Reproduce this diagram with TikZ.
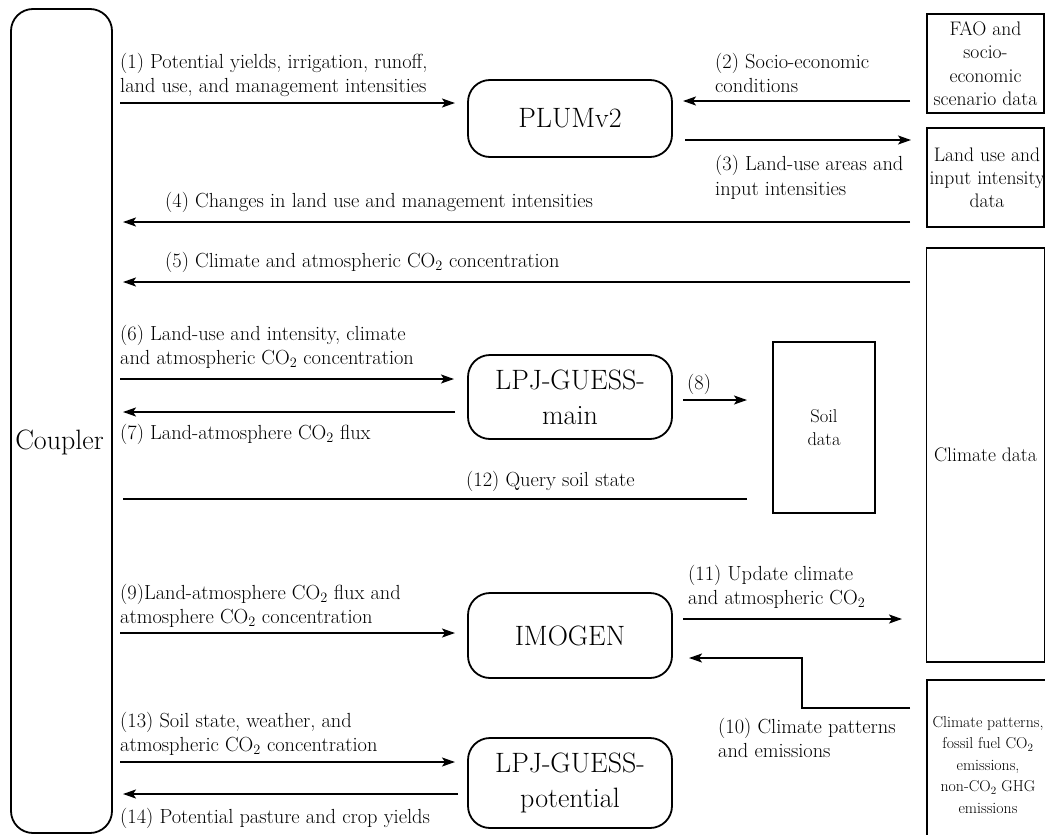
\documentclass[tikz,border=0pt]{standalone}
\usepackage{fontspec}
\usetikzlibrary{arrows.meta}
\newcommand{\COtwo}{CO\textsubscript{2}}
\begin{document}
\begin{tikzpicture}[x=1pt,y=-1pt,
  arr/.style={-{Stealth[length=13pt,width=9pt,inset=3pt]}, line width=1.8pt},
  model/.style={draw, rounded corners=22pt, line width=1.8pt, align=center, inner sep=0pt,
    font=\fontsize{28}{35}\selectfont},
  databox/.style={draw, line width=1.6pt, align=center, inner sep=0pt,
    font=\fontsize{19.6}{23.4}\selectfont},
  lbl/.style={anchor=base west, inner sep=0pt, font=\fontsize{20.4}{24}\selectfont},
]
\useasboundingbox (0,0) rectangle (1045,835);

% ---------- boxes ----------
\node[model, minimum width=101, minimum height=824] (coupler) at (61.5,421) {};
\node[anchor=base, inner sep=0pt, font=\fontsize{28}{35}\selectfont] (couplerT) at (59.5,449) {Coupler};

\node[model, minimum width=204, minimum height=77] (plum) at (570,118.5) {PLUMv2};
\node[model, minimum width=204, minimum height=84] (lpjmain) at (570,397) {LPJ-GUESS-\\main};
\node[model, minimum width=204, minimum height=85] (imogen) at (570,635.5) {IMOGEN};
\node[model, minimum width=204, minimum height=90] (lpjpot) at (570,783) {LPJ-GUESS-\\potential};

\node[databox, minimum width=117, minimum height=99] (fao) at (985.5,63.5)
  {FAO and\\socio-\\economic\\scenario data};
\node[databox, minimum width=117, minimum height=99] (landuse) at (985.5,177.5) {};
\node[align=center, inner sep=0pt, font=\fontsize{19.6}{22.8}\selectfont] (landuseT) at (987,178)
  {Land use and\\input intensity\\data};
\node[databox, minimum width=118, minimum height=414] (climate) at (985.5,455)
  {Climate data};
\node[databox, minimum width=102, minimum height=171, font=\fontsize{18.5}{23}\selectfont] (soil) at (824,427.5)
  {Soil\\data};
\node[draw, line width=1.6pt, inner sep=0pt, minimum width=130, minimum height=170] (patterns) at (992,765) {};
\node[align=center, inner sep=0pt, font=\fontsize{15.8}{21.5}\selectfont] (patternsT) at (988,765)
  {Climate patterns,\\fossil fuel \COtwo\\emissions,\\non-\COtwo{} GHG\\emissions};

% ---------- connector end points ----------
\coordinate (a1s) at (120,103);  \coordinate (a1e) at (455,103);
\coordinate (a2s) at (910,101);  \coordinate (a2e) at (683,101);
\coordinate (a3s) at (685,140);  \coordinate (a3e) at (911,140);
\coordinate (a4s) at (910,222);  \coordinate (a4e) at (123,222);
\coordinate (a5s) at (910,282);  \coordinate (a5e) at (123,282);
\coordinate (a6s) at (120,379);  \coordinate (a6e) at (454,379);
\coordinate (a7s) at (455,412);  \coordinate (a7e) at (123,412);
\coordinate (a8s) at (683,400);  \coordinate (a8e) at (747,400);
\coordinate (a12s) at (747,499); \coordinate (a12e) at (123,499);
\coordinate (a9s) at (120,633);  \coordinate (a9e) at (455,633);
\coordinate (a11s) at (683,619); \coordinate (a11e) at (902,619);
\coordinate (a10s) at (910,708); \coordinate (a10m) at (802,658); \coordinate (a10e) at (689,658);
\coordinate (a13s) at (120,762); \coordinate (a13e) at (455,762);
\coordinate (a14s) at (458,794); \coordinate (a14e) at (123,794);

% ---------- connectors ----------
\draw[arr] (a1s) -- (a1e);
\draw[arr] (a2s) -- (a2e);
\draw[arr] (a3s) -- (a3e);
\draw[arr] (a4s) -- (a4e);
\draw[arr] (a5s) -- (a5e);
\draw[arr] (a6s) -- (a6e);
\draw[arr] (a7s) -- (a7e);
\draw[arr] (a8s) -- (a8e);
\draw[line width=1.8pt] (a12s) -- (a12e);
\draw[arr] (a9s) -- (a9e);
\draw[arr] (a11s) -- (a11e);
\draw[arr] (a10s) -| (a10m) -- (a10e);
\draw[arr] (a13s) -- (a13e);
\draw[arr] (a14s) -- (a14e);

% ---------- labels ----------
\node[lbl] (l1a) at (120,68) {(1) Potential yields, irrigation, runoff,};
\node[lbl] (l1b) at (120,92) {land use, and management intensities};
\node[lbl] (l2a) at (715,68) {(2) Socio-economic};
\node[lbl] (l2b) at (715,92) {conditions};
\node[lbl] (l3a) at (715,170) {(3) Land-use areas and};
\node[lbl] (l3b) at (715,195) {input intensities};
\node[lbl] (l4) at (165,207) {(4) Changes in land use and management intensities};
\node[lbl] (l5) at (165,267) {(5) Climate and atmospheric \COtwo{} concentration};
\node[lbl] (l6a) at (120,340) {(6) Land-use and intensity, climate};
\node[lbl] (l6b) at (120,364) {and atmospheric \COtwo{} concentration};
\node[lbl] (l7) at (120,439) {(7) Land-atmosphere \COtwo{} flux};
\node[lbl] (l8) at (687,389) {(8)};
\node[lbl] (l12) at (466,486) {(12) Query soil state};
\node[lbl] (l9a) at (120,599) {(9)Land-atmosphere \COtwo{} flux and};
\node[lbl] (l9b) at (120,623) {atmosphere \COtwo{} concentration};
\node[lbl] (l11a) at (688,580) {(11) Update climate};
\node[lbl] (l11b) at (688,604) {and atmospheric \COtwo};
\node[lbl] (l10a) at (718,733) {(10) Climate patterns};
\node[lbl] (l10b) at (718,757) {and emissions};
\node[lbl] (l13a) at (120,727) {(13) Soil state, weather, and};
\node[lbl] (l13b) at (120,751) {atmospheric \COtwo{} concentration};
\node[lbl] (l14) at (120,823) {(14) Potential pasture and crop yields};
\end{tikzpicture}
\end{document}
